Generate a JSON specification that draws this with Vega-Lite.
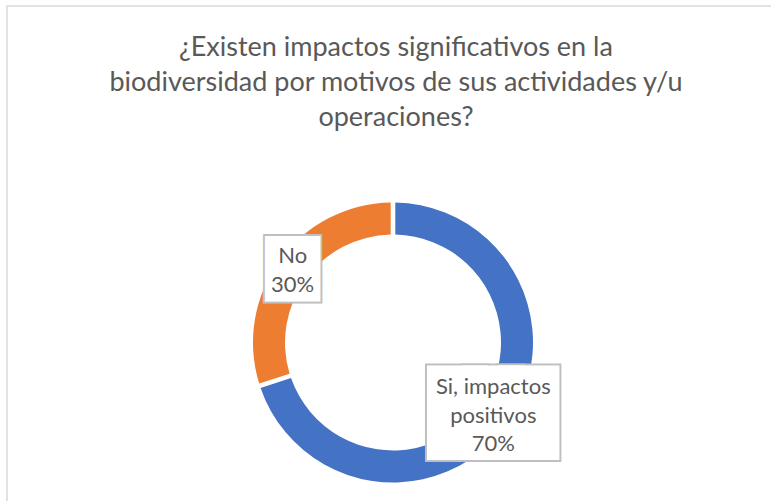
{
  "$schema": "https://vega.github.io/schema/vega-lite/v6.json",
  "width": 772,
  "height": 673,
  "autosize": "none",
  "padding": {"left": 7, "top": 6, "right": -8, "bottom": -178},
  "background": "white",
  "view": {"stroke": "#d9d9d9", "strokeWidth": 1.5},
  "title": {
    "text": ["¿Existen impactos significativos en la", "biodiversidad por motivos de sus actividades y/u", "operaciones?"],
    "orient": "top",
    "anchor": "middle",
    "frame": "group",
    "offset": -126,
    "dx": 3,
    "lineHeight": 35,
    "font": "Lato",
    "fontSize": 27,
    "fontWeight": "normal",
    "color": "#595959"
  },
  "data": {
    "values": [
      {"respuesta": "Si, impactos positivos", "valor": 70, "etiqueta": "Si, impactos\npositivos\n70%"},
      {"respuesta": "No", "valor": 30, "etiqueta": "No\n30%"}
    ]
  },
  "encoding": {
    "theta": {"field": "valor", "type": "quantitative", "stack": true},
    "order": {"field": "valor", "type": "quantitative", "sort": "descending"}
  },
  "layer": [
    {
      "mark": {"type": "arc", "innerRadius": 108, "outerRadius": 140, "padAngle": 0.026},
      "encoding": {
        "color": {
          "field": "respuesta",
          "type": "nominal",
          "scale": {"domain": ["Si, impactos positivos", "No"], "range": ["#4472C4", "#ED7D31"]},
          "legend": null
        }
      }
    },
    {
      "mark": {"type": "text", "radius": 124, "font": "DejaVu Sans Mono", "align": "center", "baseline": "middle", "fill": "#bfbfbf", "stroke": "#bfbfbf", "strokeJoin": "miter"},
      "encoding": {
        "detail": {"field": "respuesta", "type": "nominal"},
        "text": {"condition": {"test": "datum.respuesta === 'No'", "value": "█"}, "value": "███"},
        "size": {"condition": {"test": "datum.respuesta === 'No'", "value": 17.8}, "value": 59.2},
        "strokeWidth": {"condition": {"test": "datum.respuesta === 'No'", "value": 48.3}, "value": 28.1}
      }
    },
    {
      "mark": {"type": "text", "radius": 124, "font": "DejaVu Sans Mono", "align": "center", "baseline": "middle", "fill": "white", "stroke": "white", "strokeJoin": "miter"},
      "encoding": {
        "detail": {"field": "respuesta", "type": "nominal"},
        "text": {"condition": {"test": "datum.respuesta === 'No'", "value": "█"}, "value": "███"},
        "size": {"condition": {"test": "datum.respuesta === 'No'", "value": 17.8}, "value": 59.2},
        "strokeWidth": {"condition": {"test": "datum.respuesta === 'No'", "value": 44.3}, "value": 24.1}
      }
    },
    {
      "mark": {"type": "text", "radius": 124, "dy": -14, "font": "Lato", "fontSize": 22, "lineBreak": "\n", "lineHeight": 29, "align": "center", "baseline": "middle", "fill": "#595959"},
      "encoding": {
        "detail": {"field": "respuesta", "type": "nominal"},
        "text": {"condition": {"test": "datum.respuesta === 'No'", "field": "etiqueta"}, "value": ""}
      }
    },
    {
      "mark": {"type": "text", "radius": 124, "dy": -28, "font": "Lato", "fontSize": 22, "lineBreak": "\n", "lineHeight": 28.5, "align": "center", "baseline": "middle", "fill": "#595959"},
      "encoding": {
        "detail": {"field": "respuesta", "type": "nominal"},
        "text": {"condition": {"test": "datum.respuesta !== 'No'", "field": "etiqueta"}, "value": ""}
      }
    }
  ]
}
